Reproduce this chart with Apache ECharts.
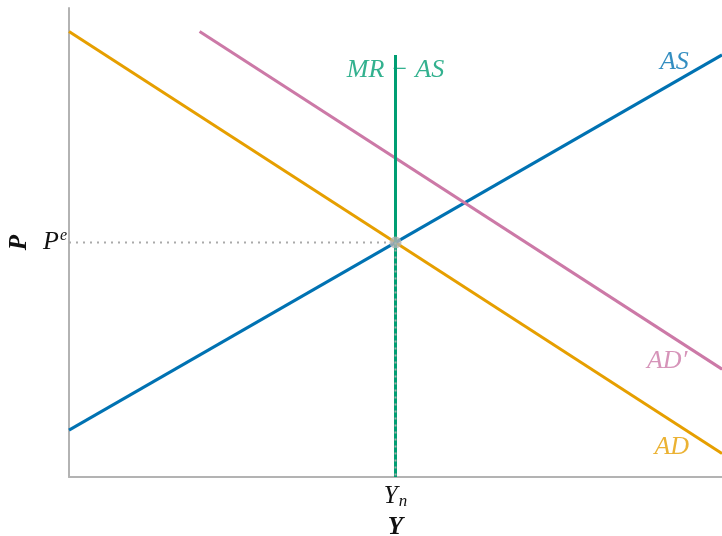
<!DOCTYPE html>
<html>
<head>
<meta charset="utf-8">
<script src="https://cdn.jsdelivr.net/npm/echarts@6/dist/echarts.min.js"></script>
<style>
html, body { margin: 0; padding: 0; background: #fff; }
#main { width: 722px; height: 536px; }
</style>
</head>
<body>
<div id="main"></div>
<script>
// 曲线数据 (x: 产出 Y, y: 价格 P)
var adLine = [[0, 9.5], [10, 0.5]]
var asLine = [[0, 1], [10, 9]]
var adPrimeLine = [[2, 9.5], [10, 2.3]]
var mrasLine = [[5, 0], [5, 9]]
var eqPoint = [[5, 5]]
var guideH = [[0, 5], [5, 5]]
var guideV = [[5, 5], [5, 0]]

// 刻度
var xTickValues = [5]
var xTickMain = ['Y']
var xTickSub = ['n']
var yTickValues = [5]
var yTickMain = ['P']
var yTickSup = ['e']

// 曲线标注
var labelNames = ['{i|AS}', '{i|AD′}', '{i|AD}', '{i|MR}{n|\u2009\u2212\u2009}{i|AS}']
var labelPos = [[9.27, 8.85], [9.16, 2.47], [9.23, 0.64], [5.0, 8.68]]
var labelColors = ['#0072B2', '#CC79A7', '#E69F00', '#009E73']

var serif = '"Liberation Serif", "DejaVu Serif", serif'
var gray = '#b3b3b3'

var myChart = echarts.init(document.getElementById('main'))

var labelData = labelPos.map(function (p, i) {
  return {
    value: p,
    label: {
      show: true,
      position: 'inside',
      formatter: labelNames[i],
      color: labelColors[i],
      textBorderWidth: 0,
      fontFamily: serif,
      fontSize: 26,
      rich: {
        i: { fontStyle: 'italic', fontFamily: serif, fontSize: 26, color: labelColors[i] },
        n: { fontFamily: serif, fontSize: 26, color: labelColors[i], padding: [0, 3, 0, 3] }
      }
    }
  }
})

var option = {
  animation: false,
  grid: { left: 69, right: 0, top: 8, bottom: 59, outerBoundsMode: 'none', containLabel: false },
  xAxis: {
    type: 'value',
    min: 0,
    max: 10,
    name: 'Y',
    nameLocation: 'middle',
    nameGap: 36,
    nameTextStyle: { fontFamily: serif, fontStyle: 'italic', fontWeight: 'bold', fontSize: 25, color: '#111' },
    axisLine: { show: true, lineStyle: { color: gray, width: 2 } },
    axisTick: { show: false },
    splitLine: { show: false },
    axisLabel: {
      customValues: xTickValues,
      margin: 6,
      formatter: function (v) {
        var k = xTickValues.indexOf(v)
        return '{m|' + xTickMain[k] + '}{s|' + xTickSub[k] + '}'
      },
      rich: {
        m: { fontFamily: serif, fontStyle: 'italic', fontSize: 25, color: '#111' },
        s: { fontFamily: serif, fontStyle: 'italic', fontSize: 17, color: '#111', verticalAlign: 'bottom', padding: [10, 0, 0, 1] }
      }
    }
  },
  yAxis: {
    type: 'value',
    min: 0,
    max: 10,
    name: 'P',
    nameLocation: 'middle',
    nameGap: 37,
    nameRotate: 90,
    nameTextStyle: { fontFamily: serif, fontStyle: 'italic', fontWeight: 'bold', fontSize: 25, color: '#111' },
    axisLine: { show: true, lineStyle: { color: gray, width: 2 } },
    axisTick: { show: false },
    splitLine: { show: false },
    axisLabel: {
      customValues: yTickValues,
      margin: 2,
      formatter: function (v) {
        var k = yTickValues.indexOf(v)
        return '{m|' + yTickMain[k] + '}{s|' + yTickSup[k] + '}'
      },
      rich: {
        m: { fontFamily: serif, fontStyle: 'italic', fontSize: 26, color: '#111' },
        s: { fontFamily: serif, fontStyle: 'italic', fontSize: 16, color: '#111', verticalAlign: 'top', padding: [0, 0, 14, 1] }
      }
    }
  },
  series: [
    {
      type: 'line', data: adLine, symbol: 'none', z: 3,
      lineStyle: { color: '#E69F00', width: 3 }
    },
    {
      type: 'line', data: asLine, symbol: 'none', z: 3,
      lineStyle: { color: '#0072B2', width: 3 }
    },
    {
      type: 'line', data: adPrimeLine, symbol: 'none', z: 3,
      lineStyle: { color: '#CC79A7', width: 3 }
    },
    {
      type: 'line', data: mrasLine, symbol: 'none', z: 4,
      lineStyle: { color: '#009E73', width: 3 }
    },
    {
      type: 'line', data: guideH, symbol: 'none', z: 5,
      lineStyle: { color: '#aaaaaa', width: 2, type: [2, 5] }
    },
    {
      type: 'line', data: guideV, symbol: 'none', z: 5,
      lineStyle: { color: '#aaaaaa', width: 2, type: [2, 5] }
    },
    {
      type: 'scatter', data: eqPoint, symbolSize: 12, z: 6,
      itemStyle: { color: gray }
    },
    {
      type: 'scatter', data: labelData, symbolSize: 2, z: 7,
      itemStyle: { color: 'rgba(0,0,0,0)' }
    }
  ]
}

myChart.setOption(option)
</script>
</body>
</html>
